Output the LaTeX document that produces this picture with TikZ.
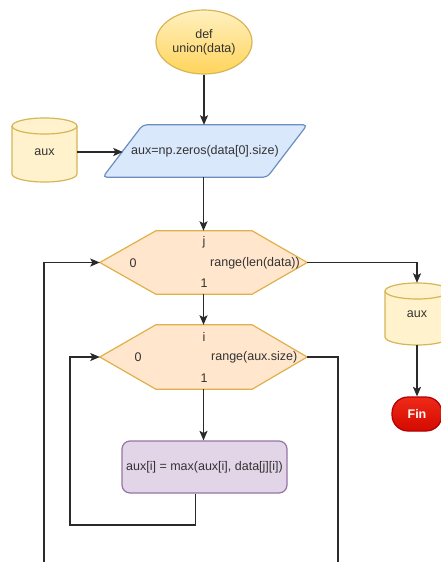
\documentclass[tikz,border=0pt]{standalone}
\usepackage{fontspec}
\setmainfont{Liberation Sans}
\usetikzlibrary{arrows.meta,shapes.geometric,calc}

\definecolor{yelFill}{HTML}{FFF0C0}
\definecolor{yelDeep}{HTML}{FFD45A}
\definecolor{cylFill}{HTML}{FFF2CC}
\definecolor{yelDraw}{HTML}{D6B656}
\definecolor{bluFill}{HTML}{DAE8FC}
\definecolor{bluDraw}{HTML}{6C8EBF}
\definecolor{orgFill}{HTML}{FFE6CC}
\definecolor{orgDraw}{HTML}{E0B04A}
\definecolor{purFill}{HTML}{E1D5E7}
\definecolor{purDraw}{HTML}{9673A6}
\definecolor{redTop}{HTML}{EE2A18}
\definecolor{redBot}{HTML}{D40A00}
\definecolor{redDraw}{HTML}{B20000}
\definecolor{lineCol}{HTML}{2A2A2A}
\definecolor{txtCol}{HTML}{333333}

% cylinder (data store): centre x, top y, width, height
\newcommand{\drum}[4]{%
  \filldraw[cyl] (#1-#3/2,#2+8) -- (#1-#3/2,#2+#4-8)
    arc[start angle=180,end angle=0,x radius=#3/2,y radius=8]
    -- (#1+#3/2,#2+8)
    arc[start angle=0,end angle=-180,x radius=#3/2,y radius=8] -- cycle;
  \draw[cyl,fill=none] (#1-#3/2,#2+8)
    arc[start angle=180,end angle=0,x radius=#3/2,y radius=8];
}

\tikzset{
  txt/.style={font=\fontsize{12.5}{15}\selectfont, text=txtCol, inner sep=0pt},
  cyl/.style={draw=yelDraw, fill=cylFill, line width=1.2pt},
  startnode/.style={txt, ellipse, draw=yelDraw, line width=1.2pt,
    top color=yelFill, bottom color=yelDeep, minimum width=96pt,
    minimum height=64pt, align=center},
  iobox/.style={draw=bluDraw, fill=bluFill, line width=1.2pt, rounded corners=4pt},
  hexbox/.style={draw=orgDraw, fill=orgFill, line width=1.2pt},
  procbox/.style={txt, draw=purDraw, fill=purFill, line width=1.2pt,
    rounded corners=8pt, minimum width=165pt, minimum height=52pt},
  endnode/.style={font=\fontsize{12.5}{15}\selectfont\bfseries, text=white,
    draw=redDraw, top color=redTop, bottom color=redBot, line width=1.2pt,
    rounded corners=16pt, minimum width=50pt, minimum height=34pt, inner sep=0pt},
  link/.style={draw=lineCol, line width=1.2pt},
  arr/.style={link, -{Stealth[length=9.5pt,width=8pt,inset=2pt]}},
}

\begin{document}
\begin{tikzpicture}[x=1pt,y=-1pt]
\useasboundingbox (0,0) rectangle (441,562);
\clip (0,0) rectangle (441,562);

% start
\node[startnode] (start) at (204,42) {def\\[-1pt]union(data)};

% input data store on the left
\drum{44.5}{118}{65}{64}
\node[txt, minimum width=65pt, minimum height=64pt] (auxL) at (44.5,152) {aux};

% initialisation (parallelogram)
\node[inner sep=0pt, minimum width=164pt, minimum height=52pt] (init) at (205,151) {};
\path[iobox] ($(init.south west)+(-20,0)$) -- ($(init.north west)+(20,0)$)
  -- ($(init.north east)+(20,0)$) -- ($(init.south east)+(-20,0)$) -- cycle;
\node[txt] (initT) at (init.center) {aux=np.zeros(data[0].size)};

% outer loop over j
\node[inner sep=0pt, minimum width=207pt, minimum height=63pt] (loopj) at (203.5,262.5) {};
\path[hexbox] (loopj.west) -- ($(loopj.north west)+(56,0)$)
  -- ($(loopj.north east)+(-55,0)$) -- (loopj.east)
  -- ($(loopj.south east)+(-55,0)$) -- ($(loopj.south west)+(56,0)$) -- cycle;
\node[txt] (jvar) at (204,242) {j};
\node[txt] (jfrom) at (133,263) {0};
\node[txt, anchor=west] (jto) at (210,263) {range(len(data))};
\node[txt] (jstep) at (204,283) {1};

% inner loop over i
\node[inner sep=0pt, minimum width=207pt, minimum height=64pt] (loopi) at (203.5,357) {};
\path[hexbox] (loopi.west) -- ($(loopi.north west)+(56,0)$)
  -- ($(loopi.north east)+(-55,0)$) -- (loopi.east)
  -- ($(loopi.south east)+(-55,0)$) -- ($(loopi.south west)+(56,0)$) -- cycle;
\node[txt] (ivar) at (204,337) {i};
\node[txt] (ifrom) at (138,357) {0};
\node[txt, anchor=west] (ito) at (211,357) {range(aux.size)};
\node[txt] (istep) at (204,378) {1};

% loop body
\node[procbox] (body) at (204.5,467) {aux[i] = max(aux[i], data[j][i])};

% result data store and end
\drum{417}{283}{64}{62}
\node[txt, minimum width=64pt, minimum height=62pt] (auxR) at (417,314) {aux};
\node[endnode] (fin) at (417,414) {Fin};

% free ends of the loop-back lines
\coordinate (iback) at (70,525);
\coordinate (jback) at (44,562);
\coordinate (iexit) at (338,562);

% connectors
\draw[arr] (start.south) -- (start.south |- init.north);
\draw[arr] (auxL.east) -- (init.west |- auxL.east);
\draw[arr] (init.south -| loopj.north) -- (loopj.north);
\draw[arr] (loopj.east) -| (auxR.north);
\draw[arr] (auxR.south) -- (fin.north);
\draw[arr] (loopj.south) -- (loopi.north);
\draw[arr] (loopi.south) -- (loopi.south |- body.north);
\draw[arr] ([xshift=-9pt]body.south) |- (iback) |- (loopi.west);
\draw[link] (loopi.east) -| (iexit);
\draw[arr] (jback) |- (loopj.west);
\end{tikzpicture}
\end{document}
